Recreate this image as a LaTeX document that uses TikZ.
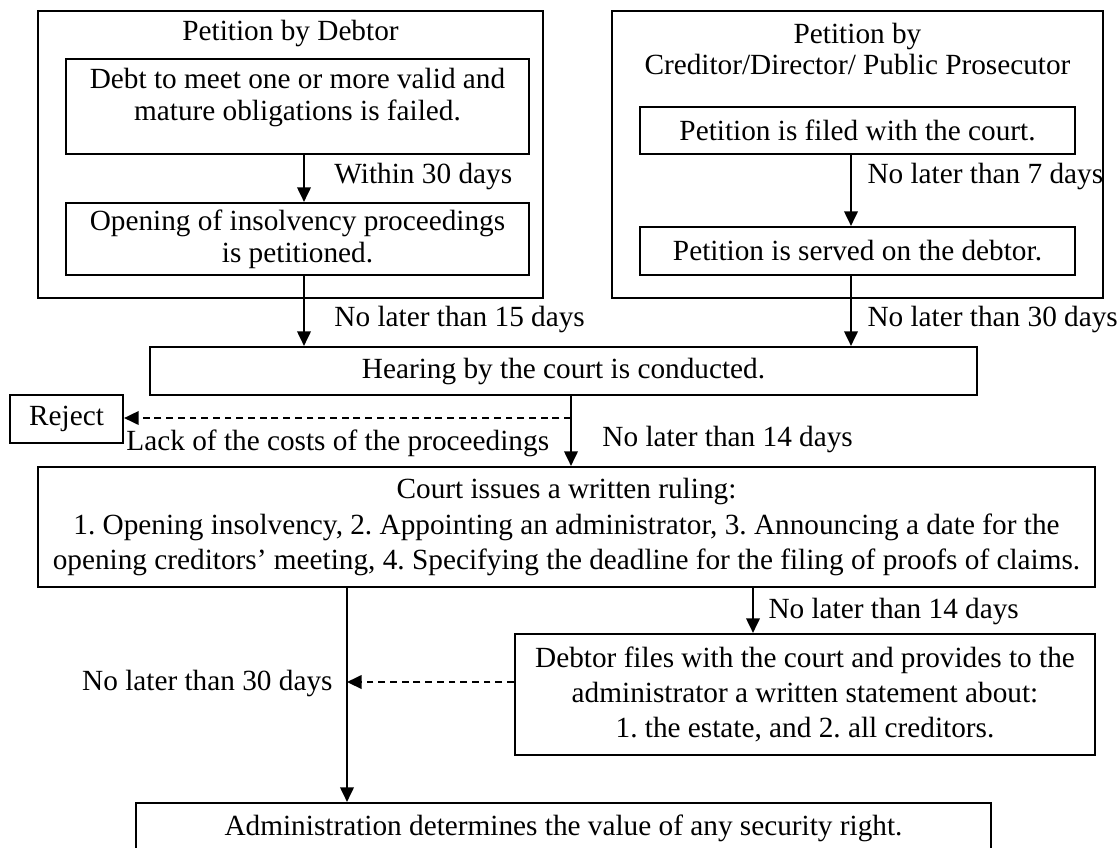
\documentclass[tikz,border=0pt]{standalone}
\usepackage{fontspec}
\setmainfont{Liberation Serif}
\usetikzlibrary{arrows.meta}
\frenchspacing
\begin{document}
\begin{tikzpicture}[x=0.41pt,y=-0.41pt,
  every node/.style={font=\fontsize{12pt}{14.4pt}\selectfont},
  box/.style={draw, line width=0.9pt, inner sep=0pt, align=center},
  lbl/.style={inner sep=0pt},
  arr/.style={line width=0.75pt, -{Triangle[length=6pt,width=5.6pt]}},
  darr/.style={arr, dash pattern=on 2.8pt off 2pt}]
\useasboundingbox (0,0) rectangle (1118,847);
\clip (0,0) rectangle (1118,847);
% outer groups
\node[box, minimum width=207.05pt, minimum height=117.67pt] (outL) at (290.5,154.5) {};
\node[lbl] (tL) at (290.5,33) {Petition by Debtor};
\node[box, minimum width=201.31pt, minimum height=117.67pt] (outR) at (857.5,154.5) {};
\node[lbl, align=center, font=\fontsize{12pt}{12.7pt}\selectfont] (tR) at (857.5,48.5) {Petition by\\Creditor/Director/ Public Prosecutor};
% inner boxes
\node[box, minimum width=189.83pt, minimum height=38.95pt] (b1) at (297.5,106.5) {};
\node[lbl, align=center, font=\fontsize{12pt}{13.5pt}\selectfont] (t1) at (297.5,97.5) {Debt to meet one or more valid and\\mature obligations is failed.};
\node[box, minimum width=189.83pt, minimum height=29.52pt, font=\fontsize{12pt}{13.2pt}\selectfont] (b2) at (297.5,239) {Opening of insolvency proceedings\\is petitioned.};
\node[box, minimum width=178.35pt, minimum height=19.27pt] (b3) at (857.5,130.5) {Petition is filed with the court.};
\node[box, minimum width=178.35pt, minimum height=19.68pt] (b4) at (857.5,251) {Petition is served on the debtor.};
% main flow
\node[box, minimum width=339.07pt, minimum height=19.68pt] (hear) at (563.5,371) {Hearing by the court is conducted.};
\node[box, minimum width=46.33pt, minimum height=19.68pt] (rej) at (66.5,419) {Reject};
\node[box, minimum width=433.37pt, minimum height=49.2pt] (court) at (566.5,527) {Court issues a written ruling:\\1. Opening insolvency, 2. Appointing an administrator, 3. Announcing a date for the\\opening creditors’ meeting, 4. Specifying the deadline for the filing of proofs of claims.};
\node[box, minimum width=237.8pt, minimum height=49.61pt] (debt) at (805,694.5) {Debtor files with the court and provides to the\\administrator a written statement about:\\1. the estate, and 2. all creditors.};
\node[box, minimum width=350.55pt, minimum height=20.5pt] (adm) at (563.5,828) {Administration determines the value of any security right.};
% connector columns
\coordinate (xa) at (304,0);
\coordinate (xb) at (851,0);
\coordinate (xc) at (571,0);
\coordinate (xd) at (753,0);
\coordinate (xe) at (347,0);
\coordinate (j1) at (571,418);
\coordinate (j2) at (347,682);
% connectors
\draw[arr] (b1.south -| xa) -- (b2.north -| xa);
\draw[arr] (b2.south -| xa) -- (hear.north -| xa);
\draw[arr] (b3.south -| xb) -- (b4.north -| xb);
\draw[arr] (b4.south -| xb) -- (hear.north -| xb);
\draw[arr] (hear.south -| xc) -- (court.north -| xc);
\draw[darr] (j1) -- (rej.east |- j1);
\draw[arr] (court.south -| xd) -- (debt.north -| xd);
\draw[arr] (court.south -| xe) -- (adm.north -| xe);
\draw[darr] (debt.west |- j2) -- (j2);
% labels
\node[lbl, anchor=west] (l1) at (334,176) {Within 30 days};
\node[lbl, anchor=west] (l2) at (867,176) {No later than 7 days};
\node[lbl, anchor=west] (l3) at (334,319) {No later than 15 days};
\node[lbl, anchor=west] (l4) at (867,319) {No later than 30 days};
\node[lbl, anchor=west] (l5) at (126,443) {Lack of the costs of the proceedings};
\node[lbl, anchor=west] (l6) at (602,439) {No later than 14 days};
\node[lbl, anchor=west] (l7) at (768,611) {No later than 14 days};
\node[lbl, anchor=east] (l8) at (333,683) {No later than 30 days};
\end{tikzpicture}
\end{document}
